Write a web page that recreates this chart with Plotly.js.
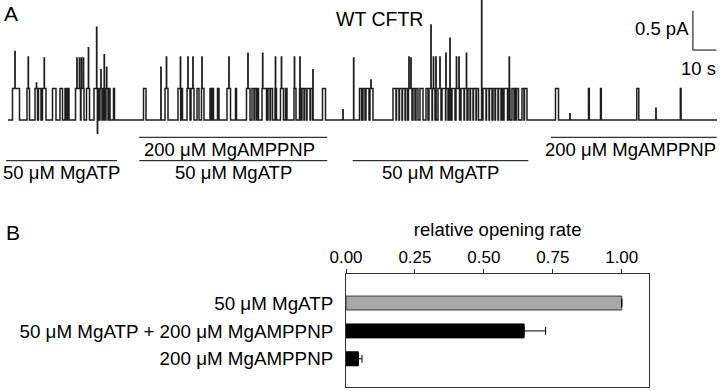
<!DOCTYPE html>
<html><head><meta charset="utf-8">
<script src="https://cdn.plot.ly/plotly-3.0.1.min.js"></script>
<style>html,body{margin:0;padding:0;background:#fff}</style>
</head><body><div id="chart" style="width:720px;height:391px"></div>
<script>
// ---------------- Panel A: single-channel record (times in s, current in pA) ----------------
const recordStart = 0, recordEnd = 303;
const unitCurrent = 0.4;
const openStart = [1.92,8.12,11.54,13.03,14.74,19.02,22.22,24.36,25.43,28.85,31.20,33.55,36.75,39.32,40.81,41.88,42.95,45.09,
  57.91,67.09,72.65,73.93,76.50,78.21,80.77,82.69,86.32,87.18,89.53,93.59,97.22,101.92,104.27,105.43,106.41,108.55,111.11,112.18,
  114.10,116.45,118.59,122.22,124.57,125.64,126.71,127.78,129.27,134.40,
  150.21,151.71,152.99,154.70,164.53,166.03,167.31,168.59,169.87,171.15,173.08,174.36,176.07,178.63,179.91,181.41,183.76,185.47,
  187.18,188.68,189.74,191.45,193.59,195.09,196.58,197.65,198.93,200.21,202.99,204.49,205.77,207.26,208.33,209.62,210.90,211.97,
  213.89,215.38,216.45,217.31,219.66,220.73,233.97,248.08,253.21,268.72,287.31];
const openEnd = [4.91,9.19,12.61,14.10,16.24,20.51,23.29,25.00,26.07,30.98,32.48,34.83,38.89,40.17,41.45,42.74,43.59,45.51,
  58.97,68.38,73.72,74.57,77.78,79.49,81.62,83.76,86.97,87.82,90.17,95.09,97.65,103.42,105.13,106.20,107.05,110.47,111.97,113.03,
  114.74,117.74,119.23,123.08,125.00,126.50,127.56,129.06,130.13,135.68,
  151.07,152.56,154.27,155.98,165.81,167.09,168.38,169.66,170.73,172.65,173.93,175.21,177.35,179.49,181.20,182.48,185.04,186.97,
  188.03,189.32,191.03,192.95,194.87,196.15,197.44,198.72,200.00,201.07,204.27,205.56,206.84,208.12,209.40,210.68,211.54,213.46,
  214.53,216.24,217.09,218.16,220.51,221.79,235.26,248.42,253.55,269.57,287.65];
const spikeTime = [2.99,8.68,12.18,15.51,29.49,30.56,31.41,32.26,34.40,37.91,38.25,39.74,41.15,42.18,65.38,67.74,73.72,76.92,
  79.06,82.91,94.44,102.56,108.85,114.32,116.88,122.44,124.79,130.34,143.16,147.74,155.13,171.37,172.22,180.77,181.84,182.91,
  184.62,187.18,188.89,191.67,192.74,195.94,202.44,214.23,240.17,276.92];
const spikePeak = [0.87,0.80,0.47,0.79,0.79,0.79,0.79,0.79,0.92,1.18,-0.17,0.64,0.83,0.67,0.67,0.80,0.80,0.80,
  0.80,0.80,0.80,0.85,0.85,0.80,0.80,0.80,0.80,0.64,0.13,0.79,0.51,0.80,0.79,1.21,0.80,0.80,
  0.80,0.85,1.04,0.80,0.80,0.85,1.60,0.80,0.08,0.15];
// solution application periods (s)
const atpStart = [-0.85, 56.11, 147.31];
const atpEnd = [46.58, 136.45, 222.35];
const amppnpStart = [56.11, 232.05];
const amppnpEnd = [136.45, 302.86];
const atpLabel = "50 μM MgATP";
const amppnpLabel = "200 μM MgAMPPNP";
const scaleCurrent = 0.5, scaleTime = 10;

// ---------------- Panel B ----------------
const conditions = ["50 μM MgATP", "50 μM MgATP + 200 μM MgAMPPNP", "200 μM MgAMPPNP"];
const relRate = [1.0, 0.646, 0.045];
const relRateErr = [0, 0.078, 0.013];
const rateTicks = [0, 0.25, 0.5, 0.75, 1.0];

// build step trace from events
const spikeHalf = 0.06;
const ev = [];
openStart.forEach((s, i) => ev.push({s: s, e: openEnd[i], a: unitCurrent, spike: false}));
spikeTime.forEach((t, i) => ev.push({s: t - spikeHalf, e: t + spikeHalf, a: spikePeak[i], spike: true}));
const bpSet = new Set([recordStart, recordEnd]);
ev.forEach(v => { bpSet.add(v.s); bpSet.add(v.e); });
const bps = Array.from(bpSet).sort((p, q) => p - q);
const tx = [], ty = [];
for (let i = 0; i < bps.length - 1; i++) {
  const m = (bps[i] + bps[i + 1]) / 2;
  let val = 0, sp = null;
  ev.forEach(v => { if (v.s <= m && m < v.e) { if (v.spike) sp = v.a; else val = Math.max(val, v.a); } });
  if (sp !== null) val = sp;
  tx.push(bps[i], bps[i + 1]); ty.push(val, val);
}

const H = 391, W = 720;
const py = p => 1 - p / H;
const shapes = [];
const annotations = [];
const upperY = py(137.3), lowerY = py(160.7);
const labFont = {size: 18.5};
atpStart.forEach((s, i) => {
  shapes.push({type: 'line', xref: 'x', yref: 'paper', x0: s, x1: atpEnd[i], y0: lowerY, y1: lowerY, line: {color: '#000', width: 1}});
  annotations.push({xref: 'x', yref: 'paper', x: (s + atpEnd[i]) / 2, y: py(173), text: atpLabel, showarrow: false, xanchor: 'center', yanchor: 'middle', font: labFont});
});
amppnpStart.forEach((s, i) => {
  shapes.push({type: 'line', xref: 'x', yref: 'paper', x0: s, x1: amppnpEnd[i], y0: upperY, y1: upperY, line: {color: '#000', width: 1}});
  annotations.push({xref: 'x', yref: 'paper', x: (s + amppnpEnd[i]) / 2 - 1.5, y: py(150), text: amppnpLabel, showarrow: false, xanchor: 'center', yanchor: 'middle', font: labFont});
});
// scale bars
const sbX = 292.7, sbY = 0.89;
shapes.push({type: 'line', xref: 'x', yref: 'y', x0: sbX, x1: sbX, y0: sbY, y1: sbY + scaleCurrent, line: {color: '#000', width: 1}});
shapes.push({type: 'line', xref: 'x', yref: 'y', x0: sbX, x1: sbX + scaleTime, y0: sbY, y1: sbY, line: {color: '#000', width: 1}});
annotations.push({xref: 'x', yref: 'y', x: sbX, y: sbY + scaleCurrent * 0.55, text: scaleCurrent + ' pA', showarrow: false, xanchor: 'right', yanchor: 'middle', xshift: -2, font: labFont});
annotations.push({xref: 'paper', yref: 'paper', x: 698 / W, y: py(68), text: scaleTime + ' s', showarrow: false, xanchor: 'center', yanchor: 'middle', font: labFont});
annotations.push({xref: 'paper', yref: 'paper', x: 2 / W, y: py(14), text: 'A', showarrow: false, xanchor: 'left', yanchor: 'middle', font: {size: 21}});
annotations.push({xref: 'paper', yref: 'paper', x: 4 / W, y: py(232), text: 'B', showarrow: false, xanchor: 'left', yanchor: 'middle', font: {size: 21}});
annotations.push({xref: 'paper', yref: 'paper', x: 379 / W, y: py(19), text: 'WT CFTR', showarrow: false, xanchor: 'center', yanchor: 'middle', font: {size: 19.5}});

const data = [
  {type: 'scatter', mode: 'lines', x: tx, y: ty, xaxis: 'x', yaxis: 'y', line: {color: '#1e1e1e', width: 1.5}, hoverinfo: 'skip', cliponaxis: true},
  {type: 'bar', orientation: 'h', y: conditions, x: relRate, xaxis: 'x2', yaxis: 'y2', width: 0.5,
   marker: {color: ['#a8a8a8', '#000000', '#000000'], line: {color: ['#3a3a3a', '#000000', '#000000'], width: 1}},
   error_x: {type: 'data', symmetric: false, array: relRateErr, arrayminus: [0, 0, 0], color: '#000', thickness: 1, width: 4}}
];

const layout = {
  width: W, height: H, margin: {l: 0, r: 0, t: 0, b: 0}, showlegend: false,
  paper_bgcolor: '#ffffff', plot_bgcolor: 'rgba(0,0,0,0)',
  font: {family: '"Liberation Sans", Arial, sans-serif', size: 18, color: '#000'},
  xaxis: {domain: [0, 1], range: [-8 / 2.34, 712 / 2.34], visible: false, fixedrange: true},
  yaxis: {domain: [py(150), 1], range: [-0.382, 1.527], visible: false, fixedrange: true},
  xaxis2: {anchor: 'y2', domain: [346 / W, 649.3 / W], range: [0, 1.1], side: 'top',
    tickvals: rateTicks, tickformat: '.2f', ticks: 'outside', ticklen: 4, tickcolor: '#333',
    showline: true, mirror: true, linecolor: '#333', linewidth: 1, showgrid: false, zeroline: false,
    tickfont: {size: 17}, title: {text: 'relative opening rate', font: {size: 18.5}, standoff: 6}},
  yaxis2: {anchor: 'x2', domain: [py(386.7), py(274.3)], type: 'category', categoryorder: 'array', categoryarray: conditions,
    range: [3, -1.03], showline: true, mirror: true, linecolor: '#333', linewidth: 1, ticks: 'outside', ticklen: 8,
    tickcolor: 'rgba(0,0,0,0)', showgrid: false, zeroline: false, tickfont: {size: 18.8}},
  shapes: shapes, annotations: annotations
};
Plotly.newPlot('chart', data, layout, {displayModeBar: false, staticPlot: true});
</script></body></html>
